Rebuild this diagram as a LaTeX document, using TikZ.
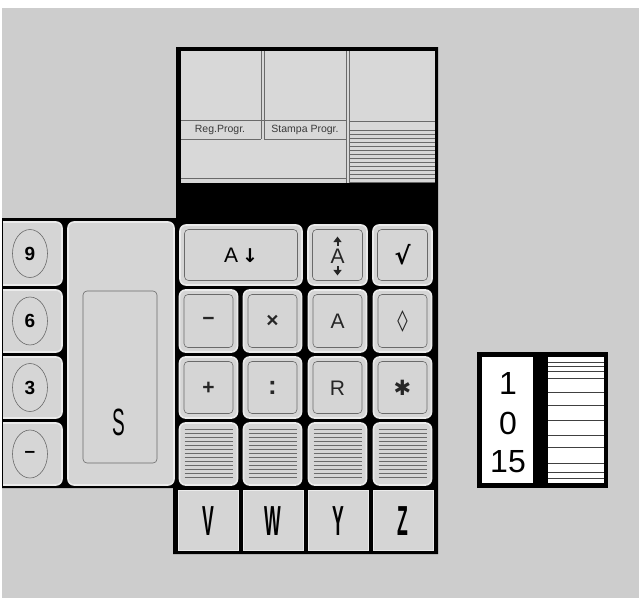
\documentclass[tikz,border=0pt]{standalone}
\usepackage{fontspec}
\setmainfont{Liberation Sans}
\setsansfont{Liberation Sans}
\newfontfamily\symfont{DejaVu Sans}
\usetikzlibrary{arrows.meta}

\definecolor{bggray}{HTML}{CDCDCD}
\definecolor{keygray}{HTML}{D5D5D5}
\definecolor{keyrim}{HTML}{EBEBEB}
\definecolor{keyline}{HTML}{6A6A6A}
\definecolor{panelgray}{HTML}{D8D8D8}
\definecolor{inkgray}{HTML}{3A3A3A}

\tikzset{
    key/.style={draw=keyrim, line width=1.6pt, fill=keygray, rounded corners=6pt, inner sep=0pt},
    keyframe/.style={path picture={
        \draw[keyline, line width=0.6pt, rounded corners=4pt]
            ([shift={(4.5pt,4.5pt)}]path picture bounding box.south west) rectangle
            ([shift={(-4.5pt,-4.5pt)}]path picture bounding box.north east);}},
    cell/.style={draw=keyrim, line width=1pt, fill=keygray, inner sep=0pt, minimum width=60pt, minimum height=60pt},
    panelline/.style={keyline, line width=0.7pt},
    plabel/.style={inner sep=0pt, text=inkgray, font=\fontsize{10.5}{11}\selectfont},
    keytext/.style={inner sep=0pt, text=black!85, font=\fontsize{21}{22}\selectfont},
    numtext/.style={inner sep=0pt, font=\fontsize{19}{20}\selectfont\bfseries},
    arrowmark/.style={-{Triangle[width=8pt,length=5.5pt]}, line width=2pt, black!85},
}

\begin{document}
\begin{tikzpicture}[x=1pt, y=-1pt]
    \useasboundingbox (0,0) rectangle (639,598);
    \fill[white] (0,0) rectangle (639,598);
    \fill[bggray] (2,8) rectangle (639,598);

    % Black body of the keyboard
    \fill[black] (2,218) -- (176,218) -- (176,47) -- (438,47) -- (438,554)
        -- (173,554) -- (173,488) -- (2,488) -- cycle;

    % Display panel
    \fill[panelgray] (181,51) rectangle (435,183);
    \draw[panelline] (261,51) -- (261,139);
    \draw[panelline] (264,51) -- (264,139);
    \draw[panelline] (181,120) -- (346,120);
    \draw[panelline] (181,139) -- (261,139);
    \draw[panelline] (264,139) -- (346,139);
    \draw[panelline] (346,51) -- (346,183);
    \draw[panelline] (349,51) -- (349,183);
    \draw[panelline] (181,178) -- (346,178);
    \draw[panelline] (349,121) -- (435,121);
    \foreach \yy in {130,134,...,182} {
        \draw[panelline] (349,\yy) -- (435,\yy);
    }
    \node[plabel] (regprogr) at (220,130) {Reg.Progr.};
    \node[plabel] (stampaprogr) at (305,130) {Stampa Progr.};

    % Number keys on the left
    \begin{scope}
        \clip (3,0) rectangle (639,598);
        \foreach \lab/\yc/\kh [count=\i] in {9/253.5/63, 6/321/62, 3/387.5/61, {\textendash}/454/62} {
            \node[key, minimum width=72pt, minimum height=\kh pt] (num\i) at (26,\yc) {};
            \draw[keyline, line width=0.6pt, fill=black!16] (30,\yc) ellipse (17.5pt and 24pt);
            \node[numtext] (numlab\i) at (30,\yc) {\lab};
        }
    \end{scope}

    % S key
    \node[key, minimum width=106pt, minimum height=263pt] (skey) at (121,353.5) {};
    \draw[keyline, line width=0.6pt, rounded corners=4pt] (83,291) rectangle (157,463);
    \node[inner sep=0pt, font=\fontsize{38}{40}\selectfont] (slab) at (119,422)
        {\scalebox{0.5}[1]{S}};

    % Function keys
    \node[key, keyframe, minimum width=122pt, minimum height=60pt] (kadown) at (241,255)
        {\fontsize{21}{22}\selectfont A\hspace{4pt}{\symfont\bfseries\fontsize{19}{20}\selectfont ↓}};
    \node[key, keyframe, minimum width=59pt, minimum height=60pt] (khat) at (337.5,255) {};
    \node[keytext] (khatlab) at (337.5,256) {A};
    \draw[arrowmark] ([yshift=3pt]khatlab.north) -- ++(0,-9);
    \draw[arrowmark] ([yshift=-3pt]khatlab.south) -- ++(0,9);
    \node[key, keyframe, minimum width=59pt, minimum height=60pt] (ksqrt) at (402.5,255)
        {\symfont\bfseries\fontsize{24}{24}\selectfont √};

    \foreach \sym/\xc [count=\i] in {{\bfseries −}/208.5, {\bfseries ×}/272.5, A/337.5, {\symfont\bfseries ◊}/402.5} {
        \node[key, keyframe, minimum width=58pt, minimum height=62pt] (krow\i) at (\xc,321) {};
        \node[keytext] (krowlab\i) at (\xc,321) {\sym};
    }
    \foreach \sym/\xc [count=\i] in {{\bfseries +}/208.5, {\bfseries\fontsize{26}{26}\selectfont :}/272.5, R/337.5, {\symfont ✱}/402.5} {
        \node[key, keyframe, minimum width=58pt, minimum height=61pt] (kops\i) at (\xc,387.5) {};
        \node[keytext] (kopslab\i) at (\xc,388) {\sym};
    }

    % Blank hatched keys
    \foreach \xc [count=\i] in {208.5, 272.5, 337.5, 402.5} {
        \node[key, minimum width=58pt, minimum height=62pt] (kblank\i) at (\xc,454) {};
        \foreach \k in {0,...,12} {
            \draw[keyline, line width=0.45pt] (\xc-24,429+\k*4) -- (\xc+24,429+\k*4);
        }
    }

    % Letter cells
    \foreach \lab/\xc in {V/208, W/273, Y/338, Z/403} {
        \node[cell] (cell\lab) at (\xc,520) {};
        \node[inner sep=0pt, font=\fontsize{42}{44}\selectfont\bfseries] (cell\lab lab) at (\xc,521)
            {\scalebox{0.42}[1]{\lab}};
    }

    % Counter on the right
    \fill[black] (477,352) rectangle (608,488);
    \fill[white] (482,357) rectangle (533,483);
    \fill[white] (548,357) rectangle (604,483);
    \foreach \yy in {362,366,371,378,392,405,420,435,447,463,472,478} {
        \draw[black!75, line width=0.8pt] (548,\yy) -- (604,\yy);
    }
    \node[inner sep=0pt, font=\fontsize{32}{34}\selectfont] (cnta) at (508,383) {1};
    \node[inner sep=0pt, font=\fontsize{32}{34}\selectfont] (cntb) at (508,423) {0};
    \node[inner sep=0pt, font=\fontsize{32}{34}\selectfont] (cntc) at (508,462) {15};
\end{tikzpicture}
\end{document}
